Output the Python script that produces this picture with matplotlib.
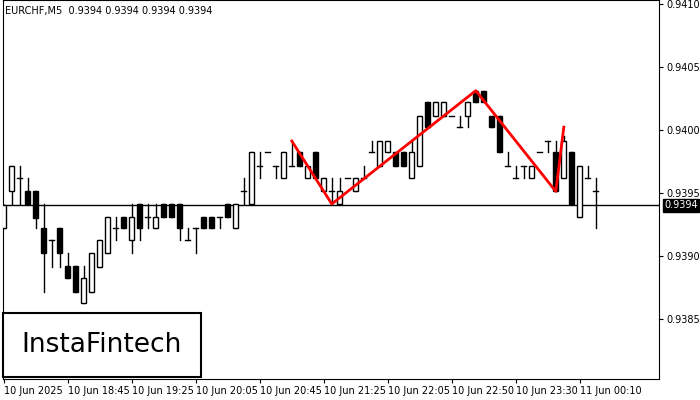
import numpy as np
import matplotlib.pyplot as plt
from matplotlib.patches import Rectangle

# OHLC for EURCHF M5 candles
opens = [0.93922, 0.93951, 0.93962, 0.93951, 0.93951, 0.93922, 0.93912, 0.93922, 0.93892, 0.93892,
         0.93862, 0.93871, 0.93891, 0.93902, 0.93922, 0.93931, 0.93912, 0.93941, 0.93931, 0.93922,
         0.93941, 0.93941, 0.93941, 0.93912, 0.93922, 0.93931, 0.93931, 0.93931, 0.93941, 0.93922,
         0.93951, 0.93941, 0.93971, 0.93982, 0.93971, 0.93962, 0.93971, 0.93982, 0.93962, 0.93982,
         0.93951, 0.93951, 0.93941, 0.93962, 0.93951, 0.93962, 0.93982, 0.93971, 0.93982, 0.93982,
         0.93982, 0.93962, 0.93971, 0.94022, 0.94011, 0.94011, 0.94011, 0.94002, 0.94011, 0.94031,
         0.94031, 0.94011, 0.94011, 0.93971, 0.93962, 0.93971, 0.93962, 0.93982, 0.93991, 0.93982,
         0.93962, 0.93982, 0.93931, 0.93962, 0.93951]
highs = [0.93940, 0.93971, 0.93971, 0.93962, 0.93951, 0.93941, 0.93912, 0.93922, 0.93902, 0.93892,
         0.93892, 0.93902, 0.93912, 0.93931, 0.93931, 0.93931, 0.93941, 0.93941, 0.93941, 0.93941,
         0.93941, 0.93941, 0.93941, 0.93922, 0.93922, 0.93931, 0.93931, 0.93931, 0.93941, 0.93941,
         0.93962, 0.93982, 0.93982, 0.93982, 0.93971, 0.93982, 0.93991, 0.93982, 0.93971, 0.93982,
         0.93962, 0.93962, 0.93962, 0.93962, 0.93962, 0.93971, 0.93991, 0.93991, 0.93991, 0.93982,
         0.93982, 0.93991, 0.94011, 0.94022, 0.94022, 0.94022, 0.94011, 0.94011, 0.94022, 0.94031,
         0.94031, 0.94011, 0.94011, 0.93982, 0.93971, 0.93971, 0.93971, 0.93982, 0.93991, 0.93991,
         0.93995, 0.93982, 0.93971, 0.93971, 0.93962]
lows = [0.93922, 0.93941, 0.93941, 0.93941, 0.93922, 0.93871, 0.93891, 0.93891, 0.93882, 0.93871,
        0.93862, 0.93871, 0.93891, 0.93902, 0.93912, 0.93922, 0.93902, 0.93912, 0.93922, 0.93922,
        0.93931, 0.93931, 0.93912, 0.93912, 0.93902, 0.93922, 0.93922, 0.93922, 0.93931, 0.93922,
        0.93941, 0.93941, 0.93962, 0.93982, 0.93962, 0.93962, 0.93971, 0.93971, 0.93962, 0.93962,
        0.93951, 0.93941, 0.93941, 0.93962, 0.93951, 0.93962, 0.93982, 0.93971, 0.93982, 0.93971,
        0.93971, 0.93962, 0.93971, 0.94002, 0.94011, 0.94011, 0.94011, 0.94002, 0.94002, 0.94022,
        0.94022, 0.94002, 0.93982, 0.93971, 0.93962, 0.93962, 0.93962, 0.93982, 0.93982, 0.93951,
        0.93962, 0.93941, 0.93931, 0.93962, 0.93922]
closes = [0.93940, 0.93971, 0.93962, 0.93941, 0.93930, 0.93902, 0.93912, 0.93902, 0.93882, 0.93871,
          0.93882, 0.93902, 0.93912, 0.93931, 0.93922, 0.93922, 0.93931, 0.93922, 0.93931, 0.93931,
          0.93931, 0.93931, 0.93922, 0.93912, 0.93922, 0.93922, 0.93922, 0.93931, 0.93931, 0.93941,
          0.93951, 0.93982, 0.93971, 0.93982, 0.93971, 0.93982, 0.93971, 0.93971, 0.93971, 0.93962,
          0.93962, 0.93951, 0.93951, 0.93962, 0.93962, 0.93962, 0.93982, 0.93991, 0.93991, 0.93971,
          0.93971, 0.93982, 0.94011, 0.94002, 0.94022, 0.94022, 0.94011, 0.94002, 0.94022, 0.94022,
          0.94022, 0.94002, 0.93982, 0.93971, 0.93962, 0.93971, 0.93971, 0.93982, 0.93991, 0.93951,
          0.93991, 0.93941, 0.93971, 0.93962, 0.93951]

# pattern line (candle index, price)
pattern_idx = [36, 41, 59, 69, 70]
pattern_px = [0.93991, 0.93941, 0.94031, 0.93951, 0.94002]

last_price = 0.9394
y_ticks = [0.9385, 0.9390, 0.9395, 0.9400, 0.9405, 0.9410]
x_tick_idx = [0, 8, 16, 24, 32, 40, 48, 56, 64, 72]
x_tick_labels = ["10 Jun 2025", "10 Jun 18:45", "10 Jun 19:25", "10 Jun 20:05", "10 Jun 20:45",
                 "10 Jun 21:25", "10 Jun 22:05", "10 Jun 22:50", "10 Jun 23:30", "11 Jun 00:10"]

fig = plt.figure(figsize=(7, 4), dpi=100)
ax = fig.add_axes([3 / 700, 21 / 400, 656 / 700, 379 / 400])

w = 0.6
for i, (o, h, l, c) in enumerate(zip(opens, highs, lows, closes)):
    ax.plot([i, i], [l, h], color="black", lw=1, zorder=2)
    bottom = min(o, c)
    height = abs(c - o)
    if height < 1e-6:
        ax.plot([i - w / 2, i + w / 2], [o, o], color="black", lw=1, zorder=3)
    else:
        face = "white" if c > o else "black"
        ax.add_patch(Rectangle((i - w / 2, bottom), w, height, facecolor=face,
                               edgecolor="black", lw=1, zorder=3))

ax.plot(pattern_idx, pattern_px, color="#ff0000", lw=2, zorder=4)
ax.axhline(last_price, color="black", lw=1, zorder=1)

ax.set_xlim(-0.1, 81.9)
ax.set_ylim(0.93802, 0.94103)
ax.yaxis.tick_right()
ax.set_yticks(y_ticks)
ax.set_yticklabels([f"{v:.4f}" for v in y_ticks], fontsize=7)
ax.set_xticks(x_tick_idx)
ax.set_xticklabels(x_tick_labels, fontsize=7, ha="left")
ax.tick_params(axis="both", length=3, pad=2)

ax.text(1.008, (last_price - 0.93802) / (0.94103 - 0.93802), f"{last_price:.4f}",
        transform=ax.transAxes, fontsize=7, color="white", va="center", ha="left",
        bbox=dict(boxstyle="square,pad=0.15", facecolor="black", edgecolor="black"))

ax.text(0.003, 0.985, "EURCHF,M5  0.9394 0.9394 0.9394 0.9394", transform=ax.transAxes,
        fontsize=7, va="top", ha="left")

# logo box
fig.patches.append(Rectangle((3 / 700, 23 / 400), 198 / 700, 64 / 400, transform=fig.transFigure,
                             facecolor="white", edgecolor="black", lw=1.5, zorder=10))
fig.text(102 / 700, 55 / 400, "InstaFintech", fontsize=19, ha="center", va="center", zorder=11)

fig.savefig("out.png", dpi=100)
